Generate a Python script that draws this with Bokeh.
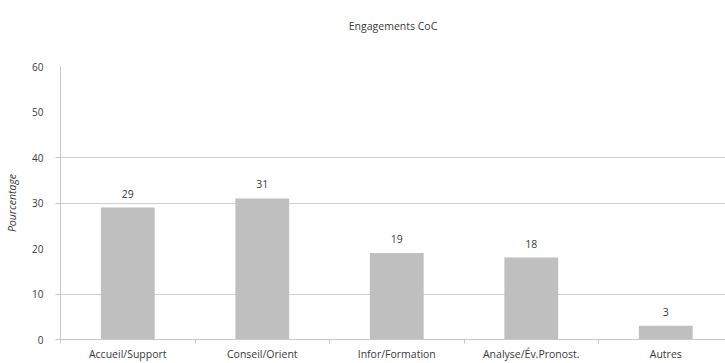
from bokeh.plotting import figure
from bokeh.models import Range1d, FixedTicker, Title
from bokeh.core.properties import value
from bokeh.embed import file_html
from bokeh.resources import INLINE

# Engagement categories and their share (percent)
categories = ["Accueil/Support", "Conseil/Orient", "Infor/Formation",
              "Analyse/Év.Pronost.", "Autres"]
percentages = [29, 31, 19, 18, 3]
y_ticks = [0, 10, 20, 30, 40, 50, 60]
grid_ticks = [10, 30, 40, 60]
tick_marks_y = [0, 10, 30, 40]

centers = [i + 0.5 for i in range(len(categories))]
boundaries = list(range(len(categories)))

FONT = "Open Sans"
TEXT = "#3a3a3a"

p = figure(width=725, height=363, output_backend="svg", toolbar_location=None,
           x_range=Range1d(0, 4.944), y_range=Range1d(0, 60),
           min_border_left=60, min_border_right=0,
           min_border_top=66, min_border_bottom=23)
p.outline_line_color = None
p.background_fill_color = "white"
p.border_fill_color = "white"

p.title.text = "Engagements CoC"
p.title.align = "center"
p.title.offset = -30
p.title.standoff = 0
p.title.text_font = FONT
p.title.text_font_size = "10.5px"
p.title.text_font_style = "normal"
p.title.text_color = TEXT

# blank band between the heading and the plot area
p.add_layout(Title(text=" ", text_font_size="10.5px", standoff=20), "above")

p.vbar(x=centers, top=percentages, width=0.4, fill_color="#bfbfbf",
       line_color=None)
p.text(x=centers, y=percentages, text=[str(v) for v in percentages],
       text_align="center", text_baseline="bottom", y_offset=-10,
       text_font=value(FONT), text_font_size="10.5px", text_color=TEXT)

# Value axis
p.yaxis.ticker = FixedTicker(ticks=y_ticks, minor_ticks=tick_marks_y)
p.yaxis.major_tick_in = 0
p.yaxis.major_tick_out = 0
p.yaxis.minor_tick_in = 0
p.yaxis.minor_tick_out = 5
p.yaxis.minor_tick_line_color = "#c8c8c8"
p.yaxis.axis_line_color = "#c8c8c8"
p.yaxis.major_label_standoff = 12
p.yaxis.major_label_text_font = FONT
p.yaxis.major_label_text_font_size = "10px"
p.yaxis.major_label_text_color = TEXT
p.yaxis.axis_label = "Pourcentage"
p.yaxis.axis_label_text_font = FONT
p.yaxis.axis_label_text_font_style = "italic"
p.yaxis.axis_label_text_font_size = "10.5px"
p.yaxis.axis_label_text_color = TEXT
p.yaxis.axis_label_standoff = 10

# Category axis
p.xaxis.ticker = FixedTicker(ticks=centers, minor_ticks=boundaries)
p.xaxis.major_label_overrides = {c: name for c, name in zip(centers, categories)}
p.xaxis.major_tick_in = 0
p.xaxis.major_tick_out = 0
p.xaxis.minor_tick_in = 0
p.xaxis.minor_tick_out = 4
p.xaxis.minor_tick_line_color = "#c8c8c8"
p.xaxis.axis_line_color = "#c8c8c8"
p.xaxis.major_label_standoff = 3
p.xaxis.major_label_text_font = FONT
p.xaxis.major_label_text_font_size = "10.5px"
p.xaxis.major_label_text_color = TEXT

p.xgrid.grid_line_color = None
p.ygrid.ticker = FixedTicker(ticks=grid_ticks)
p.ygrid.grid_line_color = "#d0d0d0"

open("out.html", "w").write(file_html(p, INLINE))
